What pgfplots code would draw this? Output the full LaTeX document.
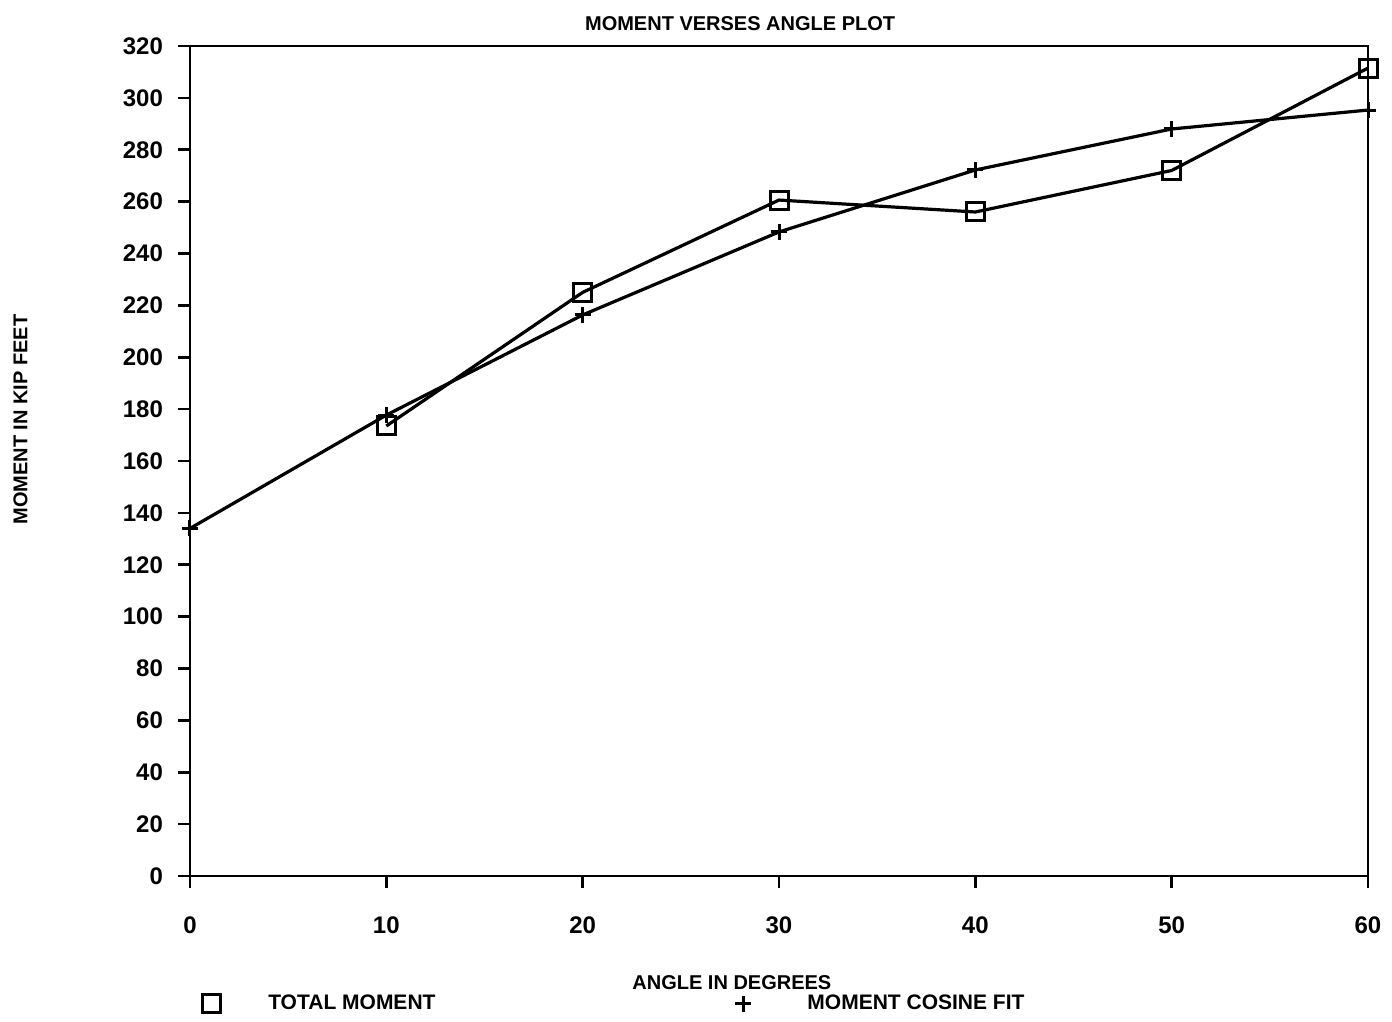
\documentclass[border=0pt]{standalone}
\usepackage{fontspec}
\setmainfont{Liberation Sans}
\usepackage{pgfplots}
\pgfplotsset{compat=1.18}
\begin{document}
\begin{tikzpicture}
\useasboundingbox (-95pt,-73pt) rectangle (601pt,438pt);
\begin{axis}[
  at={(0pt,0pt)}, anchor=origin,
  scale only axis, width=589pt, height=415pt,
  xmin=0, xmax=60, ymin=0, ymax=320,
  xtick={0,10,...,60}, ytick={0,20,...,320},
  axis line style={line width=1.3pt},
  tick align=outside, tick style={line width=1.3pt, black},
  major tick length=6pt,
  xtick pos=bottom, ytick pos=left,
  /pgf/number format/assume math mode=true,
  ticklabel style={font=\bfseries\fontsize{12}{12}\selectfont},
  xticklabel style={anchor=center, yshift=-18.5pt},
  yticklabel style={anchor=east, xshift=-4pt},
  title={MOMENT VERSES ANGLE PLOT},
  title style={at={(axis description cs:0.467,1)}, anchor=center, yshift=5pt,
    font=\bfseries\fontsize{10}{10}\selectfont},
  xlabel={ANGLE IN DEGREES},
  xlabel style={at={(axis description cs:0.46,-0.128)}, anchor=center,
    font=\bfseries\fontsize{10}{10}\selectfont},
  ylabel={MOMENT IN KIP FEET},
  ylabel style={at={(axis description cs:-0.144,0.55)}, anchor=center,
    font=\bfseries\fontsize{10}{10}\selectfont},
  legend columns=2,
  legend style={draw=none, fill=none, at={(axis description cs:0.005,-0.154)},
    anchor=west, font=\bfseries\fontsize{10.5}{10.5}\selectfont,
    /tikz/every even column/.append style={column sep=148pt}},
  legend image code/.code={\draw[#1] plot coordinates {(0.1cm,0cm)};},
]
\addplot[black, line width=1.6pt, mark=square, mark size=4.5pt,
  mark options={line width=1.5pt}, forget plot] coordinates {
  (10,173.5) (20,225) (30,260.6) (40,256) (50,272) (60,311.5)
};
\addplot[black, line width=1.6pt, mark=+, mark size=4pt,
  mark options={line width=1.5pt}, forget plot] coordinates {
  (0,134) (10,177.7) (20,216.3) (30,248.3) (40,272.2) (50,288) (60,295.3)
};
\addlegendimage{only marks, black, mark=square, mark size=4.5pt, mark options={line width=1.5pt}}
\addlegendentry{\hspace{22pt}TOTAL MOMENT}
\addlegendimage{only marks, black, mark=+, mark size=4pt, mark options={line width=1.5pt}}
\addlegendentry{\hspace{26pt}MOMENT COSINE FIT}
\end{axis}
\end{tikzpicture}
\end{document}
